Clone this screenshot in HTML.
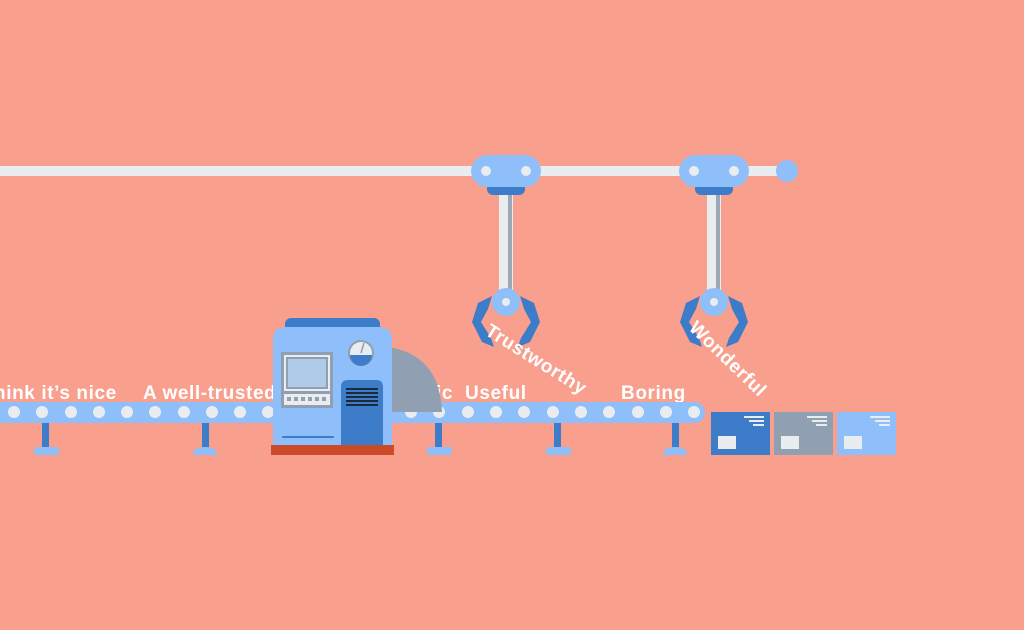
<!DOCTYPE html>
<html><head><style>
html,body{margin:0;padding:0;}
body{width:1024px;height:630px;background:#f99f8d;overflow:hidden;}
svg{display:block}
text{font-family:"Liberation Sans",sans-serif;font-weight:bold;fill:#fff;font-size:19px;letter-spacing:0.6px;}
</style></head><body>
<svg width="1024" height="630" viewBox="0 0 1024 630">
<rect width="1024" height="630" fill="#f99f8d"/>
<rect x="0" y="166" width="790" height="10" fill="#e9edf0"/>
<circle cx="787" cy="171" r="11" fill="#8fbffa"/>
<g>
<rect x="499" y="190" width="14" height="108" fill="#e9edf0"/>
<rect x="508" y="192" width="4" height="104" fill="#9aa8b8"/>
<path d="M487 186 h38 v3 a6 6 0 0 1 -6 6 h-26 a6 6 0 0 1 -6 -6z" fill="#3d7cc9"/>
<rect x="471" y="155" width="70" height="32" rx="16" fill="#8fbffa"/>
<circle cx="486" cy="171" r="5" fill="#e9edf0"/><circle cx="526" cy="171" r="5" fill="#e9edf0"/>
<path d="M492 296 L478 303 L472 322 L482 342 L494 347 L491 338 L481 322 L488 309 Z" fill="#3d7cc9"/>
<path d="M520 296 L534 303 L540 322 L530 342 L518 347 L521 338 L531 322 L524 309 Z" fill="#3d7cc9"/>
<circle cx="506" cy="302" r="14" fill="#8fbffa"/><circle cx="506" cy="302" r="4" fill="#e9edf0"/>
</g>
<g transform="translate(208,0)">
<rect x="499" y="190" width="14" height="108" fill="#e9edf0"/>
<rect x="508" y="192" width="4" height="104" fill="#9aa8b8"/>
<path d="M487 186 h38 v3 a6 6 0 0 1 -6 6 h-26 a6 6 0 0 1 -6 -6z" fill="#3d7cc9"/>
<rect x="471" y="155" width="70" height="32" rx="16" fill="#8fbffa"/>
<circle cx="486" cy="171" r="5" fill="#e9edf0"/><circle cx="526" cy="171" r="5" fill="#e9edf0"/>
<path d="M492 296 L478 303 L472 322 L482 342 L494 347 L491 338 L481 322 L488 309 Z" fill="#3d7cc9"/>
<path d="M520 296 L534 303 L540 322 L530 342 L518 347 L521 338 L531 322 L524 309 Z" fill="#3d7cc9"/>
<circle cx="506" cy="302" r="14" fill="#8fbffa"/><circle cx="506" cy="302" r="4" fill="#e9edf0"/>
</g>
<text x="-6" y="399">hink it’s nice</text>
<text x="143" y="399">A well-trusted</text>
<text x="436" y="399">ic</text>
<text x="465" y="399">Useful</text>
<text x="621" y="399">Boring</text>
<text transform="translate(484,334) rotate(32)">Trustworthy</text>
<text transform="translate(688,329) rotate(44)">Wonderful</text>
<g fill="#3d7cc9">
<rect x="42" y="422" width="7" height="26"/><rect x="202" y="422" width="7" height="26"/>
<rect x="435" y="422" width="7" height="26"/><rect x="554" y="422" width="7" height="26"/>
<rect x="672" y="422" width="7" height="26"/>
</g>
<g fill="#8fbffa">
<rect x="34" y="447" width="25" height="8" rx="3"/><path d="M193 455 q0-8 12-8 q12 0 12 8z"/>
<rect x="427" y="447" width="25" height="8" rx="3"/><rect x="546" y="447" width="25" height="8" rx="3"/>
<path d="M663 455 q0-8 12-8 q12 0 12 8z"/>
</g>
<rect x="-20" y="402" width="725" height="21" rx="10.5" fill="#8fbffa"/>
<g fill="#e9edf0">
<circle cx="14" cy="412" r="6"/><circle cx="42" cy="412" r="6"/><circle cx="71" cy="412" r="6"/><circle cx="99" cy="412" r="6"/><circle cx="127" cy="412" r="6"/><circle cx="155" cy="412" r="6"/><circle cx="184" cy="412" r="6"/><circle cx="212" cy="412" r="6"/><circle cx="240" cy="412" r="6"/><circle cx="268" cy="412" r="6"/>
<circle cx="411" cy="412" r="6"/><circle cx="439" cy="412" r="6"/><circle cx="468" cy="412" r="6"/><circle cx="496" cy="412" r="6"/><circle cx="524" cy="412" r="6"/><circle cx="553" cy="412" r="6"/><circle cx="581" cy="412" r="6"/><circle cx="609" cy="412" r="6"/><circle cx="638" cy="412" r="6"/><circle cx="666" cy="412" r="6"/><circle cx="694" cy="412" r="6"/>
</g>
<path d="M388 347 Q440 355 442 412 L388 412 Z" fill="#909fb2"/>
<rect x="285" y="318" width="95" height="14" rx="6" fill="#3d7cc9"/>
<path d="M273 340 q0-13 13-13 h93 q13 0 13 13 v107 h-119z" fill="#8fbffa"/>
<rect x="281" y="352" width="52" height="56" fill="#909fb2"/>
<rect x="284" y="355" width="46" height="36" fill="#e9edf0"/>
<rect x="287" y="358" width="40" height="30" fill="#aecbea" stroke="#909fb2" stroke-width="2"/>
<rect x="284" y="394" width="46" height="11" fill="#e9edf0"/>
<g fill="#909fb2"><rect x="287" y="397" width="4" height="4"/><rect x="294" y="397" width="4" height="4"/><rect x="301" y="397" width="4" height="4"/><rect x="308" y="397" width="4" height="4"/><rect x="315" y="397" width="4" height="4"/><rect x="322" y="397" width="4" height="4"/></g>
<circle cx="361" cy="353" r="13" fill="#909fb2"/>
<circle cx="361" cy="353" r="11" fill="#e9edf0"/>
<path d="M350 355 h22 a11 11 0 0 1 -22 0z" fill="#3d7cc9"/>
<line x1="361" y1="353" x2="364" y2="343" stroke="#909fb2" stroke-width="1.5"/>
<path d="M341 387 q0-7 7-7 h28 q7 0 7 7 v60 h-42z" fill="#3d7cc9"/>
<g fill="#1b2a3a"><rect x="346" y="388" width="32" height="2"/><rect x="346" y="392" width="32" height="2"/><rect x="346" y="396" width="32" height="2"/><rect x="346" y="400" width="32" height="2"/><rect x="346" y="404" width="32" height="2"/></g>
<rect x="282" y="436" width="52" height="2" rx="1" fill="#3d7cc9"/>
<rect x="271" y="445" width="123" height="10" fill="#cc4a27"/>
<rect x="711" y="412" width="59" height="43" fill="#3d7cc9"/>
<rect x="774" y="412" width="59" height="43" fill="#909fb2"/>
<rect x="837" y="412" width="59" height="43" fill="#8fbffa"/>
<g fill="#e9edf0">
<rect x="718" y="436" width="18" height="13"/><rect x="744" y="416" width="20" height="2"/><rect x="749" y="420" width="15" height="2"/><rect x="753" y="424" width="11" height="2"/>
<rect x="781" y="436" width="18" height="13"/><rect x="807" y="416" width="20" height="2"/><rect x="812" y="420" width="15" height="2"/><rect x="816" y="424" width="11" height="2"/>
<rect x="844" y="436" width="18" height="13"/><rect x="870" y="416" width="20" height="2"/><rect x="875" y="420" width="15" height="2"/><rect x="879" y="424" width="11" height="2"/>
</g>
</svg>
</body></html>
